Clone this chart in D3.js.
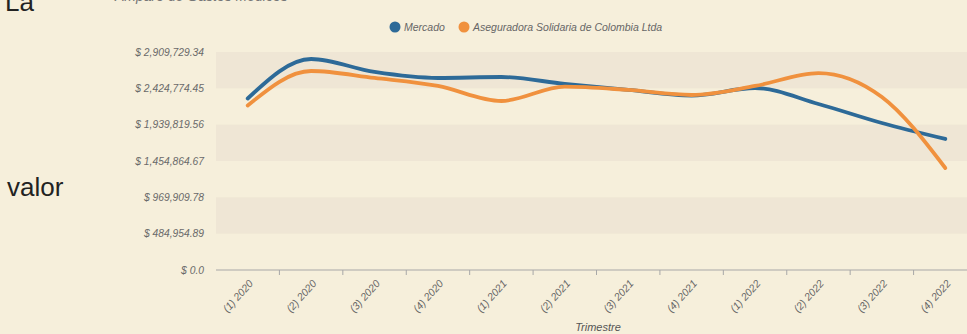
<!DOCTYPE html>
<html><head><meta charset="utf-8">
<script src="https://cdn.jsdelivr.net/npm/d3@7"></script>
<style>
html,body{margin:0;padding:0;background:#f6efdb;overflow:hidden;}
svg{display:block;font-family:"Liberation Sans",Arial,sans-serif;}
</style></head>
<body>
<svg id="c" width="967" height="334"></svg>
<script>
const categories = ["(1) 2020","(2) 2020","(3) 2020","(4) 2020","(1) 2021","(2) 2021","(3) 2021","(4) 2021","(1) 2022","(2) 2022","(3) 2022","(4) 2022"];
const mercado = [2289000, 2816000, 2643000, 2563000, 2576000, 2483000, 2403000, 2329000, 2429000, 2216000, 1962000, 1749000];
const aseguradora = [2196000, 2656000, 2563000, 2456000, 2256000, 2447000, 2403000, 2336000, 2456000, 2629000, 2309000, 1361000];
const seriesNames = ["Mercado", "Aseguradora Solidaria de Colombia Ltda"];
const yMax = 2909729.34;
const yTickValues = [0, 484954.89, 969909.78, 1454864.67, 1939819.56, 2424774.45, 2909729.34];
const yTickLabels = ["$ 0.0", "$ 484,954.89", "$ 969,909.78", "$ 1,454,864.67", "$ 1,939,819.56", "$ 2,424,774.45", "$ 2,909,729.34"];
const xTitle = "Trimestre";
const chartTitle = "Amparo de Gastos Médicos";

const colors = ["#2d6a98", "#f0913e"];
const svg = d3.select("#c");

// side texts
svg.append("text").attr("x", 5).attr("y", 11).attr("font-size", 26).attr("fill", "#222").text("La");
svg.append("text").attr("x", 7).attr("y", 196).attr("font-size", 26).attr("fill", "#222").text("valor");
svg.append("text").attr("x", 115).attr("y", 1).attr("font-size", 14).attr("font-style", "italic").attr("fill", "#777").text(chartTitle);

const x = d3.scaleBand().domain(categories).range([216, 977]);
const y = d3.scaleLinear().domain([0, yMax]).range([270, 52]);

// stripes
const g = svg.append("g");
for (let i = 0; i < yTickValues.length - 1; i++) {
  if (i % 2 === 1) {
    g.append("rect").attr("x", 216).attr("width", 967 - 216)
      .attr("y", y(yTickValues[i + 1])).attr("height", y(yTickValues[i]) - y(yTickValues[i + 1]))
      .attr("fill", "#eee3d3").attr("opacity", 0.8);
  }
}

// y axis labels
svg.append("g").selectAll("text").data(yTickValues).join("text")
  .attr("x", 204).attr("y", d => y(d)).attr("dy", "0.35em")
  .attr("text-anchor", "end").attr("font-size", 10.3).attr("font-style", "italic").attr("fill", "#6a6a6a")
  .text((d, i) => yTickLabels[i]);

// x axis
const xAxis = svg.append("g").attr("transform", "translate(0,270)");
xAxis.append("line").attr("x1", 216).attr("x2", 967).attr("stroke", "#a8a8a8").attr("stroke-width", 1.2);
xAxis.selectAll("line.tk").data(categories.slice(1)).join("line").attr("class", "tk")
  .attr("x1", d => x(d)).attr("x2", d => x(d)).attr("y1", 0).attr("y2", 5)
  .attr("stroke", "#a8a8a8");
xAxis.selectAll("text").data(categories).join("text")
  .attr("transform", d => `translate(${x(d) + x.bandwidth() / 2 + 6},14) rotate(-48)`)
  .attr("text-anchor", "end").attr("font-size", 10.5).attr("font-style", "italic").attr("fill", "#666")
  .text(d => d);
svg.append("text").attr("x", 598).attr("y", 331).attr("text-anchor", "middle")
  .attr("font-size", 11).attr("font-style", "italic").attr("fill", "#555").text(xTitle);

// lines
const line = d3.line().x((d, i) => x(categories[i]) + x.bandwidth() / 2).y(d => y(d)).curve(d3.curveMonotoneX);
[mercado, aseguradora].forEach((s, k) => {
  svg.append("path").attr("d", line(s)).attr("fill", "none")
    .attr("stroke", colors[k]).attr("stroke-width", 3.8).attr("stroke-linecap", "round");
});

// legend
const leg = svg.append("g");
const legX = [395, 464];
seriesNames.forEach((n, k) => {
  leg.append("circle").attr("cx", legX[k]).attr("cy", 27).attr("r", 5.5).attr("fill", colors[k]);
  leg.append("text").attr("x", legX[k] + 9).attr("y", 27).attr("dy", "0.35em")
    .attr("font-size", 10.5).attr("font-style", "italic").attr("fill", "#666").text(n);
});
</script>
</body></html>
